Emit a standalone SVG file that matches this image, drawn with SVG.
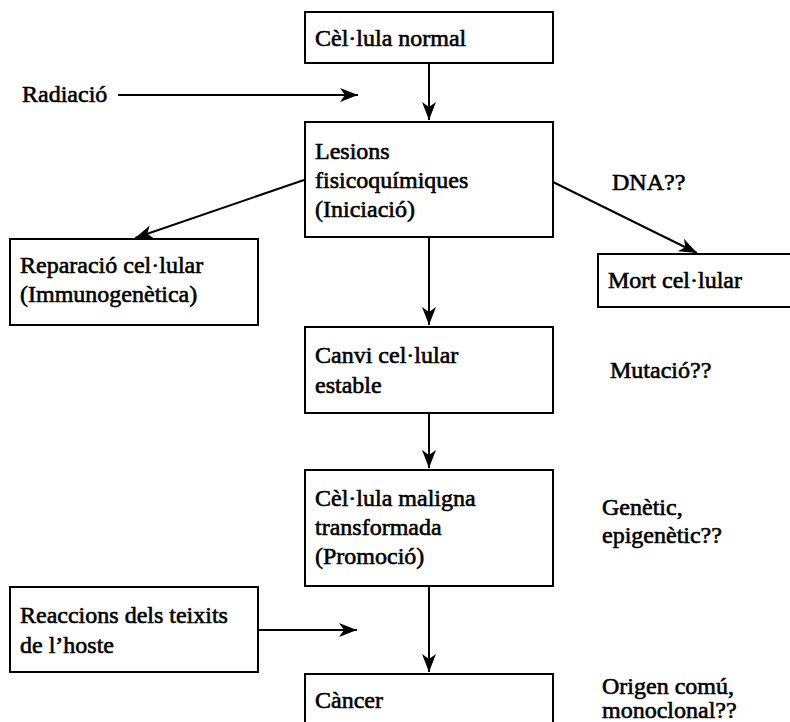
<svg xmlns="http://www.w3.org/2000/svg" width="790" height="722" viewBox="0 0 790 722">
<defs>
<marker id="ah" markerUnits="userSpaceOnUse" markerWidth="20" markerHeight="16" refX="18" refY="7" orient="auto">
<path d="M0,0 L18,7 L0,14 L5,7 z" fill="#000"/>
</marker>
<style>
.box{fill:#fff;stroke:#000;stroke-width:2}
.t{font-family:"Liberation Serif","DejaVu Serif",serif;font-size:24px;fill:#000;stroke:#000;stroke-width:0.6}
.c{fill:none;stroke:#000;stroke-width:2;marker-end:url(#ah)}
</style>
</defs>
<rect width="790" height="722" fill="#fff"/>
<g id="connectors">
<line class="c" x1="429" y1="63" x2="429" y2="120"/>
<line class="c" x1="118" y1="95" x2="358" y2="95"/>
<line class="c" x1="304" y1="180" x2="135" y2="238"/>
<line class="c" x1="553" y1="182" x2="697" y2="253"/>
<line class="c" x1="429" y1="237" x2="429" y2="325"/>
<line class="c" x1="429" y1="413" x2="429" y2="468"/>
<line class="c" x1="429" y1="586" x2="429" y2="672"/>
<line class="c" x1="258" y1="630" x2="357" y2="630"/>
</g>
<g id="n-normal">
<rect class="box" x="305" y="12" width="248" height="51"/>
<text class="t" x="315" y="46">Cèl·lula normal</text>
</g>
<g id="n-radiacio">
<text class="t" x="22" y="102">Radiació</text>
</g>
<g id="n-lesions">
<rect class="box" x="305" y="122" width="248" height="115"/>
<text class="t" x="315" y="159">Lesions</text>
<text class="t" x="315" y="188">fisicoquímiques</text>
<text class="t" x="315" y="217">(Iniciació)</text>
</g>
<g id="n-dna">
<text class="t" x="612" y="190">DNA??</text>
</g>
<g id="n-reparacio">
<rect class="box" x="10" y="239" width="248" height="86"/>
<text class="t" x="20" y="273">Reparació cel·lular</text>
<text class="t" x="20" y="302">(Immunogenètica)</text>
</g>
<g id="n-mort">
<rect class="box" x="598" y="254" width="200" height="53"/>
<text class="t" x="608" y="288">Mort cel·lular</text>
</g>
<g id="n-canvi">
<rect class="box" x="305" y="327" width="248" height="86"/>
<text class="t" x="315" y="363">Canvi cel·lular</text>
<text class="t" x="315" y="393">estable</text>
</g>
<g id="n-mutacio">
<text class="t" x="610" y="378">Mutació??</text>
</g>
<g id="n-maligna">
<rect class="box" x="305" y="470" width="248" height="116"/>
<text class="t" x="315" y="506">Cèl·lula maligna</text>
<text class="t" x="315" y="535">transformada</text>
<text class="t" x="315" y="564">(Promoció)</text>
</g>
<g id="n-genetic">
<text class="t" x="602" y="515">Genètic,</text>
<text class="t" x="602" y="543">epigenètic??</text>
</g>
<g id="n-reaccions">
<rect class="box" x="10" y="587" width="248" height="85"/>
<text class="t" x="20" y="623">Reaccions dels teixits</text>
<text class="t" x="20" y="653">de l’hoste</text>
</g>
<g id="n-cancer">
<rect class="box" x="305" y="674" width="248" height="60"/>
<text class="t" x="315" y="708">Càncer</text>
</g>
<g id="n-origen">
<text class="t" x="602" y="694">Origen comú,</text>
<text class="t" x="602" y="718">monoclonal??</text>
</g>
</svg>
